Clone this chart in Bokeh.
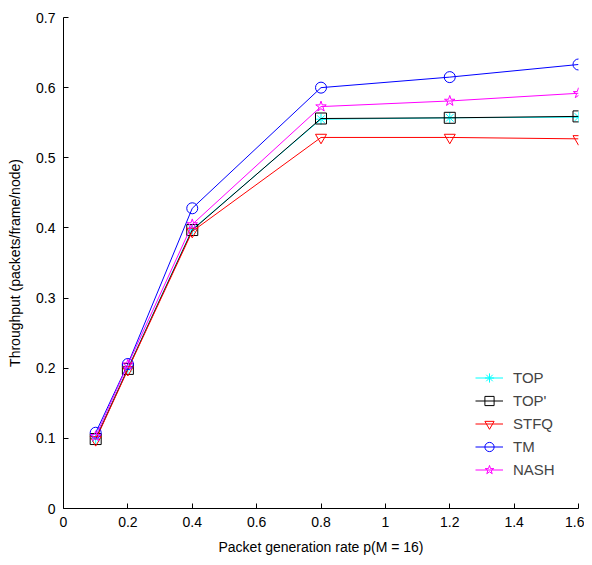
from bokeh.plotting import figure
from bokeh.models import Range1d, FixedTicker, Legend, LegendItem
from bokeh.embed import file_html
from bokeh.resources import INLINE

x = [0.1, 0.2, 0.4, 0.8, 1.2, 1.6]
top = [0.100, 0.200, 0.398, 0.555, 0.557, 0.558]
top_p = [0.099, 0.199, 0.397, 0.556, 0.557, 0.559]
stfq = [0.098, 0.198, 0.395, 0.529, 0.529, 0.527]
tm = [0.108, 0.206, 0.428, 0.600, 0.615, 0.633]
nash = [0.103, 0.205, 0.405, 0.573, 0.581, 0.592]

x_ticks = [0, 0.2, 0.4, 0.6, 0.8, 1, 1.2, 1.4, 1.6]
y_ticks = [0, 0.1, 0.2, 0.3, 0.4, 0.5, 0.6, 0.7]

FONT = "Liberation Sans"

p = figure(width=584, height=557, output_backend="svg", toolbar_location=None,
           x_range=Range1d(0, 1.6), y_range=Range1d(0, 0.7),
           min_border_left=63, min_border_right=6, min_border_top=17, min_border_bottom=48)
p.outline_line_color = None
p.xgrid.visible = False
p.ygrid.visible = False

for ax in (p.xaxis[0], p.yaxis[0]):
    ax.major_tick_in = 5
    ax.major_tick_out = 0
    ax.minor_tick_in = 0
    ax.minor_tick_out = 0
    ax.axis_line_color = "black"
    ax.major_tick_line_color = "black"
    ax.major_label_text_font = FONT
    ax.major_label_text_font_size = "14px"
    ax.major_label_text_color = "black"
    ax.axis_label_text_font = FONT
    ax.axis_label_text_font_size = "14px"
    ax.axis_label_text_font_style = "normal"
    ax.axis_label_text_color = "black"

p.xaxis.ticker = FixedTicker(ticks=x_ticks)
p.yaxis.ticker = FixedTicker(ticks=y_ticks)
p.xaxis.major_label_overrides = {0: "0", 1: "1"}
p.yaxis.major_label_overrides = {0: "0"}
p.xaxis.axis_label = "Packet generation rate p(M = 16)"
p.yaxis.axis_label = "Throughput (packets/frame/node)"
p.xaxis.axis_label_standoff = 9
p.yaxis.axis_label_standoff = 10
p.xaxis.major_label_standoff = 8
p.yaxis.major_label_standoff = 8

series = [
    ("TOP", top, "cyan", "asterisk"),
    ("TOP'", top_p, "black", "square"),
    ("STFQ", stfq, "red", "inverted_triangle"),
    ("TM", tm, "blue", "circle"),
    ("NASH", nash, "magenta", "star"),
]

items = []
for name, ys, color, marker in series:
    l = p.line(x, ys, line_color=color, line_width=1)
    s = p.scatter(x, ys, marker=marker, size=11, line_color=color,
                  fill_color=None, line_width=1)
    items.append(LegendItem(label=name, renderers=[l, s]))

legend = Legend(items=items, location=(412, 27), border_line_color=None,
                background_fill_alpha=0, label_text_font=FONT,
                label_text_font_size="15px", glyph_width=28, spacing=0,
                label_height=23, glyph_height=23, margin=0, padding=2,
                label_standoff=10)
p.add_layout(legend)

open("out.html", "w").write(file_html(p, INLINE))
